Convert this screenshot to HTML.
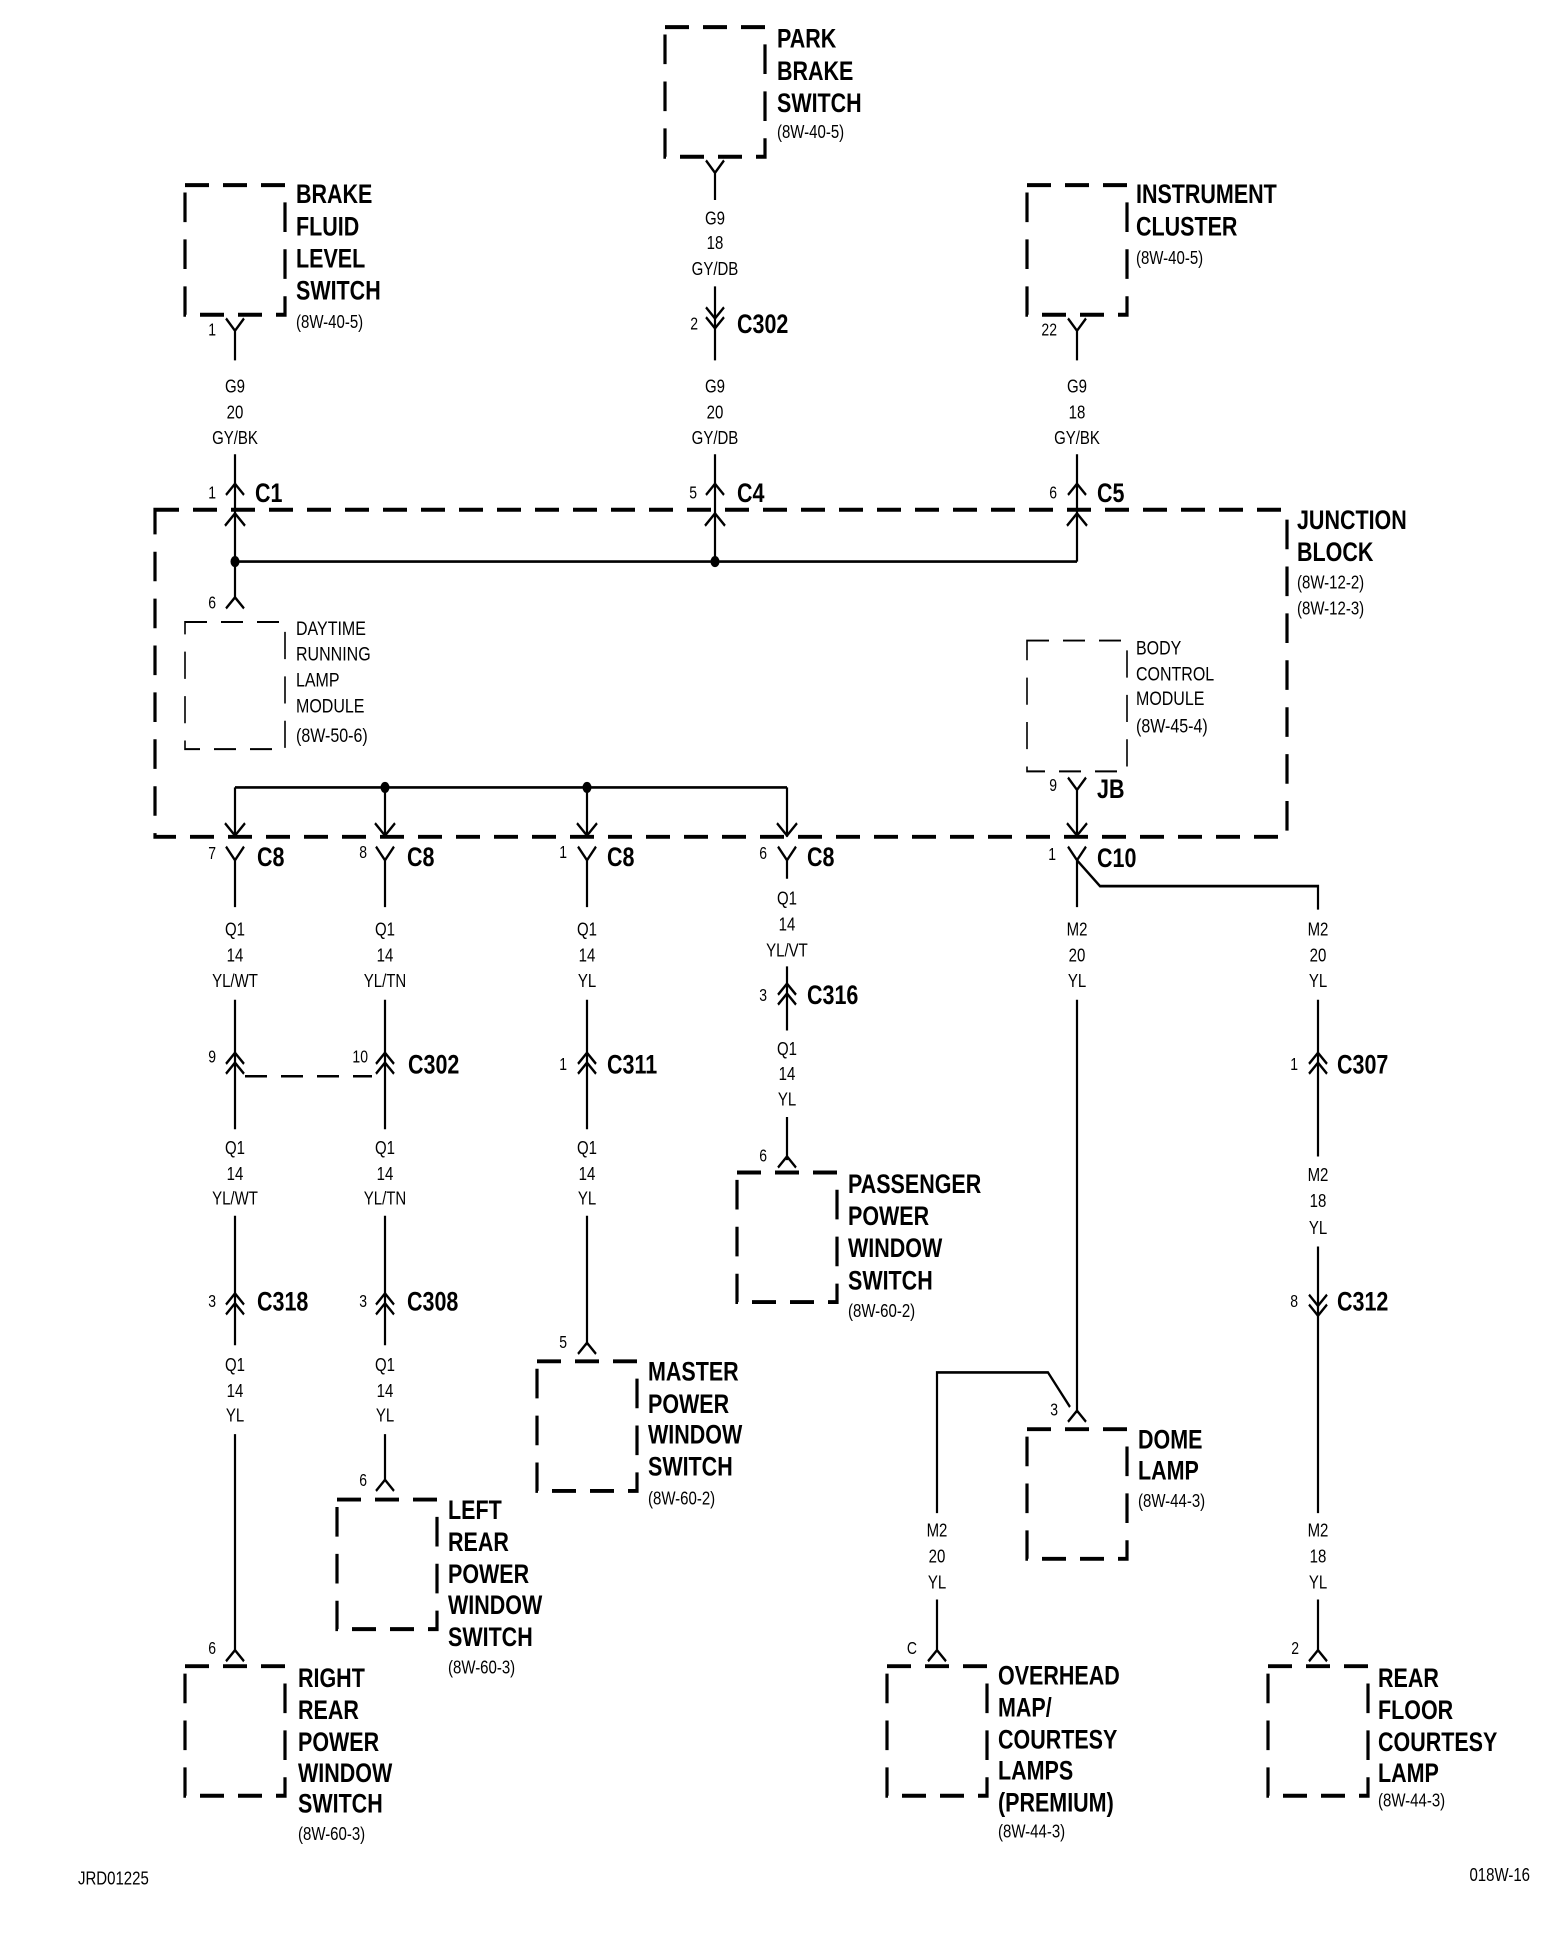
<!DOCTYPE html>
<html><head><meta charset="utf-8"><style>
html,body{margin:0;padding:0;background:#fff;width:1568px;height:1934px;overflow:hidden}
svg{display:block}
text{font-family:"Liberation Sans",sans-serif;fill:#000;dominant-baseline:central}
.b{font-weight:bold;font-size:21.5px}
.r{font-size:15px}
.m{font-size:16px}
.w{font-size:15px;text-anchor:middle}
.p{font-size:14px;text-anchor:end}
.ln{stroke:#000;stroke-width:2.2;fill:none}
.bx{stroke:#000;stroke-width:3.2;fill:none;stroke-dasharray:24 14}
.tb{stroke:#000;stroke-width:1.6;fill:none;stroke-dasharray:22 14}
</style></head><body>
<svg width="1568" height="1934" viewBox="0 0 1568 1567" preserveAspectRatio="none">
<rect class="bx" x="665" y="22" width="100" height="105"/>
<rect class="bx" x="185" y="150" width="100" height="105"/>
<rect class="bx" x="1027" y="150" width="100" height="105"/>
<rect class="bx" x="155" y="413" width="1132" height="265" stroke-dasharray="26 12"/>
<rect class="tb" x="185" y="504" width="100" height="103"/>
<rect class="tb" x="1027" y="519" width="100" height="106"/>
<rect class="bx" x="737" y="950" width="100" height="105"/>
<rect class="bx" x="537" y="1103" width="100" height="105"/>
<rect class="bx" x="337" y="1215" width="100" height="105"/>
<rect class="bx" x="185" y="1350" width="100" height="105"/>
<rect class="bx" x="1027" y="1158" width="100" height="105"/>
<rect class="bx" x="887" y="1350" width="100" height="105"/>
<rect class="bx" x="1268" y="1350" width="100" height="105"/>

<g class="ln">
<path d="M226 258L235 268L244 258M235 268V292M235 368V484"/>
<path d="M226 401L235 392L244 401M225 426L235 416L245 426M226 493L235 484L244 493"/>
<path d="M706 130L715 140L724 130M715 140V162M715 232V292M715 368V455"/>
<path d="M706 249L715 258L724 249M706 257L715 266L724 257"/>
<path d="M706 401L715 392L724 401M705 426L715 416L725 426"/>
<path d="M1068 258L1077 268L1086 258M1077 268V292M1077 368V455"/>
<path d="M1068 401L1077 392L1086 401M1067 426L1077 416L1087 426"/>
<path d="M235 455H1077"/>
<path d="M235 638H787M235 638V678M385 638V678M587 638V678M787 638V678"/>
<path d="M225 667L235 677L245 667M375 667L385 677L395 667M577 667L587 677L597 667M777 667L787 677L797 667"/>
<path d="M226 686L235 697L244 686M376 686L385 697L394 686M578 686L587 697L596 686M778 686L787 697L796 686"/>
<path d="M1068 630L1077 640L1086 630M1077 640V678M1067 667L1077 677L1087 667"/>
<path d="M1068 686L1077 697L1086 686M1077 697V735M1077 697L1100 718H1318V737"/>
<path d="M235 697V735M235 810V915M235 985V1090M235 1162V1338"/>
<path d="M226 862L235 853L244 862M226 870L235 861L244 870"/>
<path d="M226 1057L235 1048L244 1057M226 1065L235 1056L244 1065"/>
<path d="M226 1346L235 1337L244 1346"/>
<path d="M385 697V735M385 810V915M385 985V1090M385 1162V1200"/>
<path d="M376 862L385 853L394 862M376 870L385 861L394 870"/>
<path d="M376 1057L385 1048L394 1057M376 1065L385 1056L394 1065"/>
<path d="M376 1208L385 1199L394 1208"/>
<path d="M587 697V735M587 810V915M587 985V1090"/>
<path d="M578 862L587 853L596 862M578 870L587 861L596 870"/>
<path d="M578 1097L587 1088L596 1097"/>
<path d="M787 697V712M787 783V835M787 905V940"/>
<path d="M778 806L787 797L796 806M778 814L787 805L796 814"/>
<path d="M778 946L787 937L796 946"/>
<path d="M1077 810V1145M1068 1152L1077 1143L1086 1152"/>
<path d="M1070 1140L1048 1112H937V1226M937 1296V1338M928 1346L937 1337L946 1346"/>
<path d="M1318 810V937M1318 1010V1226M1318 1296V1338"/>
<path d="M1309 862L1318 853L1327 862M1309 870L1318 861L1327 870"/>
<path d="M1309 1049L1318 1058L1327 1049M1309 1057L1318 1066L1327 1057"/>
<path d="M1309 1346L1318 1337L1327 1346"/>
</g>
<path d="M245 872H372" stroke="#000" stroke-width="2" stroke-dasharray="22 14"/>
<circle cx="235" cy="455" r="4.5"/><circle cx="715" cy="455" r="4.5"/>
<circle cx="385" cy="638" r="4.5"/><circle cx="587" cy="638" r="4.5"/>

<text class="b" x="777" y="32">PARK</text><text class="b" x="777" y="58">BRAKE</text><text class="b" x="777" y="84">SWITCH</text><text class="r" x="777" y="107">(8W-40-5)</text>
<text class="b" x="296" y="158">BRAKE</text><text class="b" x="296" y="184">FLUID</text><text class="b" x="296" y="210">LEVEL</text><text class="b" x="296" y="236">SWITCH</text><text class="r" x="296" y="261">(8W-40-5)</text>
<text class="b" x="1136" y="158">INSTRUMENT</text><text class="b" x="1136" y="184">CLUSTER</text><text class="r" x="1136" y="209">(8W-40-5)</text>
<text class="b" x="1297" y="422">JUNCTION</text><text class="b" x="1297" y="448">BLOCK</text><text class="r" x="1297" y="472">(8W-12-2)</text><text class="r" x="1297" y="493">(8W-12-3)</text>
<text class="m" x="296" y="509">DAYTIME</text><text class="m" x="296" y="530">RUNNING</text><text class="m" x="296" y="551">LAMP</text><text class="m" x="296" y="572">MODULE</text><text class="m" x="296" y="596">(8W-50-6)</text>
<text class="m" x="1136" y="525">BODY</text><text class="m" x="1136" y="546">CONTROL</text><text class="m" x="1136" y="566">MODULE</text><text class="m" x="1136" y="588">(8W-45-4)</text>
<text class="b" x="848" y="960">PASSENGER</text><text class="b" x="848" y="986">POWER</text><text class="b" x="848" y="1012">WINDOW</text><text class="b" x="848" y="1038">SWITCH</text><text class="r" x="848" y="1062">(8W-60-2)</text>
<text class="b" x="648" y="1112">MASTER</text><text class="b" x="648" y="1138">POWER</text><text class="b" x="648" y="1163">WINDOW</text><text class="b" x="648" y="1189">SWITCH</text><text class="r" x="648" y="1214">(8W-60-2)</text>
<text class="b" x="448" y="1224">LEFT</text><text class="b" x="448" y="1250">REAR</text><text class="b" x="448" y="1276">POWER</text><text class="b" x="448" y="1301">WINDOW</text><text class="b" x="448" y="1327">SWITCH</text><text class="r" x="448" y="1351">(8W-60-3)</text>
<text class="b" x="298" y="1360">RIGHT</text><text class="b" x="298" y="1386">REAR</text><text class="b" x="298" y="1412">POWER</text><text class="b" x="298" y="1437">WINDOW</text><text class="b" x="298" y="1462">SWITCH</text><text class="r" x="298" y="1486">(8W-60-3)</text>
<text class="b" x="1138" y="1167">DOME</text><text class="b" x="1138" y="1192">LAMP</text><text class="r" x="1138" y="1216">(8W-44-3)</text>
<text class="b" x="998" y="1358">OVERHEAD</text><text class="b" x="998" y="1384">MAP/</text><text class="b" x="998" y="1410">COURTESY</text><text class="b" x="998" y="1435">LAMPS</text><text class="b" x="998" y="1461">(PREMIUM)</text><text class="r" x="998" y="1484">(8W-44-3)</text>
<text class="b" x="1378" y="1360">REAR</text><text class="b" x="1378" y="1386">FLOOR</text><text class="b" x="1378" y="1412">COURTESY</text><text class="b" x="1378" y="1437">LAMP</text><text class="r" x="1378" y="1459">(8W-44-3)</text>
<text class="r" x="78" y="1522">JRD01225</text><text class="r" x="1530" y="1519" text-anchor="end">018W-16</text>

<text class="b" x="255" y="400">C1</text><text class="p" x="216" y="400">1</text>
<text class="b" x="737" y="400">C4</text><text class="p" x="697" y="400">5</text>
<text class="b" x="1097" y="400">C5</text><text class="p" x="1057" y="400">6</text>
<text class="b" x="737" y="263">C302</text><text class="p" x="698" y="263">2</text>
<text class="p" x="216" y="268">1</text><text class="p" x="1057" y="268">22</text>
<text class="p" x="216" y="489">6</text>
<text class="b" x="1097" y="640">JB</text><text class="p" x="1057" y="637">9</text>
<text class="b" x="1097" y="696">C10</text><text class="p" x="1056" y="693">1</text>
<text class="b" x="257" y="695">C8</text><text class="p" x="216" y="692">7</text>
<text class="b" x="407" y="695">C8</text><text class="p" x="367" y="691">8</text>
<text class="b" x="607" y="695">C8</text><text class="p" x="567" y="691">1</text>
<text class="b" x="807" y="695">C8</text><text class="p" x="767" y="692">6</text>
<text class="b" x="408" y="863">C302</text><text class="p" x="216" y="857">9</text><text class="p" x="368" y="857">10</text>
<text class="b" x="607" y="863">C311</text><text class="p" x="567" y="863">1</text>
<text class="b" x="807" y="807">C316</text><text class="p" x="767" y="807">3</text>
<text class="b" x="1337" y="863">C307</text><text class="p" x="1298" y="863">1</text>
<text class="b" x="257" y="1055">C318</text><text class="p" x="216" y="1055">3</text>
<text class="b" x="407" y="1055">C308</text><text class="p" x="367" y="1055">3</text>
<text class="b" x="1337" y="1055">C312</text><text class="p" x="1298" y="1055">8</text>
<text class="p" x="216" y="1336">6</text><text class="p" x="367" y="1200">6</text><text class="p" x="567" y="1088">5</text>
<text class="p" x="767" y="937">6</text><text class="p" x="1058" y="1143">3</text><text class="p" x="917" y="1336">C</text><text class="p" x="1299" y="1336">2</text>

<g>
<text class="w" x="715" y="177">G9</text><text class="w" x="715" y="197">18</text><text class="w" x="715" y="218">GY/DB</text>
<text class="w" x="715" y="313">G9</text><text class="w" x="715" y="334">20</text><text class="w" x="715" y="355">GY/DB</text>
<text class="w" x="235" y="313">G9</text><text class="w" x="235" y="334">20</text><text class="w" x="235" y="355">GY/BK</text>
<text class="w" x="1077" y="313">G9</text><text class="w" x="1077" y="334">18</text><text class="w" x="1077" y="355">GY/BK</text>
<text class="w" x="235" y="753">Q1</text><text class="w" x="235" y="774">14</text><text class="w" x="235" y="795">YL/WT</text>
<text class="w" x="385" y="753">Q1</text><text class="w" x="385" y="774">14</text><text class="w" x="385" y="795">YL/TN</text>
<text class="w" x="587" y="753">Q1</text><text class="w" x="587" y="774">14</text><text class="w" x="587" y="795">YL</text>
<text class="w" x="787" y="728">Q1</text><text class="w" x="787" y="749">14</text><text class="w" x="787" y="770">YL/VT</text>
<text class="w" x="787" y="850">Q1</text><text class="w" x="787" y="870">14</text><text class="w" x="787" y="891">YL</text>
<text class="w" x="1077" y="753">M2</text><text class="w" x="1077" y="774">20</text><text class="w" x="1077" y="795">YL</text>
<text class="w" x="1318" y="753">M2</text><text class="w" x="1318" y="774">20</text><text class="w" x="1318" y="795">YL</text>
<text class="w" x="235" y="930">Q1</text><text class="w" x="235" y="951">14</text><text class="w" x="235" y="971">YL/WT</text>
<text class="w" x="385" y="930">Q1</text><text class="w" x="385" y="951">14</text><text class="w" x="385" y="971">YL/TN</text>
<text class="w" x="587" y="930">Q1</text><text class="w" x="587" y="951">14</text><text class="w" x="587" y="971">YL</text>
<text class="w" x="1318" y="952">M2</text><text class="w" x="1318" y="973">18</text><text class="w" x="1318" y="995">YL</text>
<text class="w" x="235" y="1106">Q1</text><text class="w" x="235" y="1127">14</text><text class="w" x="235" y="1147">YL</text>
<text class="w" x="385" y="1106">Q1</text><text class="w" x="385" y="1127">14</text><text class="w" x="385" y="1147">YL</text>
<text class="w" x="937" y="1240">M2</text><text class="w" x="937" y="1261">20</text><text class="w" x="937" y="1282">YL</text>
<text class="w" x="1318" y="1240">M2</text><text class="w" x="1318" y="1261">18</text><text class="w" x="1318" y="1282">YL</text>
</g>
</svg>
</body></html>
